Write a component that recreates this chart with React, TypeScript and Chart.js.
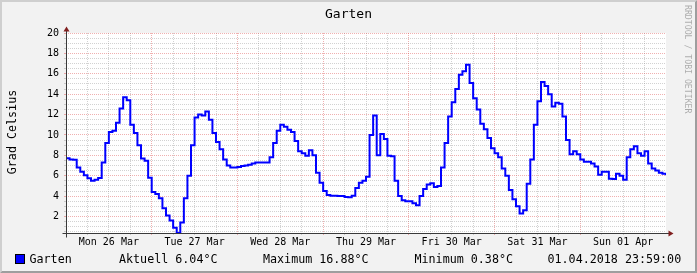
import React, { useEffect, useRef } from "react";
import { Chart, registerables } from "chart.js";

Chart.register(...registerables);

// ---------- text ----------
const CHART_TITLE = "Garten";
const Y_AXIS_TITLE = "Grad Celsius";
const WATERMARK = "RRDTOOL / TOBI OETIKER";
const SERIES_NAME = "Garten";
const LEGEND_TEXTS = ["Aktuell 6.04°C", "Maximum 16.88°C", "Minimum 0.38°C", "01.04.2018 23:59:00"];

// ---------- axes ----------
const DAY_LABELS = ["Mon 26 Mar", "Tue 27 Mar", "Wed 28 Mar", "Thu 29 Mar", "Fri 30 Mar", "Sat 31 Mar", "Sun 01 Apr"];
const Y_TICK_LABELS = [2, 4, 6, 8, 10, 12, 14, 16, 18, 20];
const X_MAX_HOURS = 168;
const X_GRID_STEP_HOURS = 6;
const Y_MIN = 0.38;
const Y_MAX = 20;
const Y_GRID_STEP = 0.5;

// ---------- hourly temperatures (°C) ----------
const MON_26 = [7.72, 7.6, 7.56, 6.8, 6.4, 6.05, 5.75, 5.5, 5.6, 5.77, 7.3, 9.2, 10.3, 10.4, 11.2, 12.6, 13.7, 13.4, 11.0, 10.2, 9.0, 7.7, 7.46, 5.8];
const TUE_27 = [4.4, 4.2, 3.8, 2.8, 2.1, 1.6, 0.9, 0.38, 1.4, 3.8, 6.0, 9.0, 11.7, 12.0, 11.9, 12.3, 11.5, 10.2, 9.3, 8.6, 7.6, 7.0, 6.8, 6.8];
const WED_28 = [6.85, 6.95, 7.0, 7.07, 7.2, 7.3, 7.3, 7.3, 7.3, 7.8, 9.2, 10.4, 11.0, 10.8, 10.5, 10.3, 9.4, 8.4, 8.2, 7.95, 8.5, 8.0, 6.3, 5.3];
const THU_29 = [4.5, 4.1, 4.04, 4.04, 4.0, 4.0, 3.9, 3.88, 4.04, 4.8, 5.3, 5.5, 5.9, 10.0, 11.9, 8.0, 10.1, 9.6, 7.95, 7.9, 5.5, 4.0, 3.6, 3.5];
const FRI_30 = [3.5, 3.3, 3.1, 4.0, 4.7, 5.15, 5.25, 4.9, 5.0, 6.8, 9.2, 11.8, 13.2, 14.5, 15.9, 16.25, 16.88, 15.1, 13.6, 12.5, 11.1, 10.55, 9.7, 8.7];
const SAT_31 = [8.2, 7.8, 6.7, 6.0, 4.6, 3.7, 3.0, 2.3, 2.6, 5.2, 7.6, 11.0, 13.3, 15.2, 14.8, 14.0, 12.8, 13.15, 13.05, 11.8, 9.5, 8.1, 8.4, 8.1];
const SUN_01 = [7.6, 7.36, 7.36, 7.2, 6.9, 6.1, 6.4, 6.4, 5.7, 5.67, 6.2, 6.0, 5.6, 7.8, 8.6, 8.9, 8.2, 7.95, 8.4, 7.2, 6.7, 6.5, 6.3, 6.2];
const LAST_VALUE = 6.04;

const DAYS = [MON_26, TUE_27, WED_28, THU_29, FRI_30, SAT_31, SUN_01];

// ---------- colours ----------
const BACK = "#f2f2f2";
const CANVAS_BG = "#ffffff";
const SHADE_A = "#cfcfcf";
const SHADE_B = "#9e9e9e";
const GRID_MINOR = "rgba(143,143,143,0.4)";
const GRID_MAJOR = "rgba(222,79,79,0.45)";
const AXIS_COLOR = "#3a3a3a";
const ARROW_COLOR = "#801f1f";
const LINE_COLOR = "#0000ff";
const FONT = '"DejaVu Sans Mono", monospace';

const W = 697;
const H = 273;

const rrdPlugin = {
  id: "rrdDecor",
  beforeDraw(chart: any) {
    const { ctx, chartArea } = chart;
    ctx.save();
    ctx.fillStyle = BACK;
    ctx.fillRect(0, 0, W, H);
    // bevel
    ctx.fillStyle = SHADE_A;
    ctx.beginPath();
    ctx.moveTo(0, H);
    ctx.lineTo(2, H - 2);
    ctx.lineTo(2, 2);
    ctx.lineTo(W - 2, 2);
    ctx.lineTo(W, 0);
    ctx.lineTo(0, 0);
    ctx.closePath();
    ctx.fill();
    ctx.fillStyle = SHADE_B;
    ctx.beginPath();
    ctx.moveTo(2, H - 2);
    ctx.lineTo(W - 2, H - 2);
    ctx.lineTo(W - 2, 2);
    ctx.lineTo(W, 0);
    ctx.lineTo(W, H);
    ctx.lineTo(0, H);
    ctx.closePath();
    ctx.fill();
    ctx.fillStyle = CANVAS_BG;
    ctx.fillRect(chartArea.left, chartArea.top, chartArea.right - chartArea.left, chartArea.bottom - chartArea.top);
    ctx.restore();
  },
  afterDraw(chart: any) {
    const { ctx, chartArea } = chart;
    const x0 = chartArea.left + 0.5;
    const y0 = chartArea.bottom + 0.5;
    const x1 = chartArea.right + 0.5;
    const yTop = chartArea.top + 0.5;
    ctx.save();
    // axes
    ctx.strokeStyle = AXIS_COLOR;
    ctx.lineWidth = 1;
    ctx.beginPath();
    ctx.moveTo(x0 - 4, y0);
    ctx.lineTo(x1 + 4, y0);
    ctx.moveTo(x0, y0 + 4);
    ctx.lineTo(x0, yTop - 4);
    ctx.stroke();
    // arrows
    ctx.fillStyle = ARROW_COLOR;
    ctx.beginPath();
    ctx.moveTo(x1 + 2, y0 - 3);
    ctx.lineTo(x1 + 2, y0 + 3);
    ctx.lineTo(x1 + 7, y0);
    ctx.closePath();
    ctx.fill();
    ctx.beginPath();
    ctx.moveTo(x0 - 3, yTop - 2);
    ctx.lineTo(x0 + 3, yTop - 2);
    ctx.lineTo(x0, yTop - 7);
    ctx.closePath();
    ctx.fill();

    // title
    ctx.fillStyle = "#000";
    ctx.font = `13px ${FONT}`;
    ctx.textAlign = "center";
    ctx.textBaseline = "alphabetic";
    ctx.fillText(CHART_TITLE, W / 2, 18);

    // y axis title
    ctx.save();
    ctx.font = `11.7px ${FONT}`;
    ctx.translate(15.5, 132);
    ctx.rotate(-Math.PI / 2);
    ctx.textAlign = "center";
    ctx.fillText(Y_AXIS_TITLE, 0, 0);
    ctx.restore();

    // watermark
    ctx.save();
    ctx.font = `8.2px ${FONT}`;
    ctx.fillStyle = "rgba(0,0,0,0.3)";
    ctx.translate(685, 5);
    ctx.rotate(Math.PI / 2);
    ctx.textAlign = "left";
    ctx.fillText(WATERMARK, 0, 0);
    ctx.restore();

    // legend
    ctx.fillStyle = "#000";
    ctx.fillRect(15, 254, 10, 10);
    ctx.fillStyle = LINE_COLOR;
    ctx.fillRect(16, 255, 8, 8);
    ctx.fillStyle = "#000";
    ctx.font = `11.7px ${FONT}`;
    ctx.textAlign = "left";
    ctx.fillText(SERIES_NAME, 29.5, 263);
    const legendX = [119, 263, 414.5, 547.5];
    LEGEND_TEXTS.forEach((t, i) => ctx.fillText(t, legendX[i], 263));
    ctx.restore();
  },
};

export default function App() {
  const canvasRef = useRef<HTMLCanvasElement | null>(null);

  useEffect(() => {
    document.body.style.margin = "0";
    const canvas = canvasRef.current;
    if (!canvas) return;

    const points: { x: number; y: number }[] = [];
    DAYS.forEach((vals, d) => vals.forEach((v, h) => points.push({ x: d * 24 + h, y: v })));
    points.push({ x: X_MAX_HOURS, y: LAST_VALUE });

    const xTicks: number[] = [];
    for (let v = 0; v <= X_MAX_HOURS; v += X_GRID_STEP_HOURS) xTicks.push(v);
    const yTicks: number[] = [];
    for (let v = Y_GRID_STEP; v <= Y_MAX + 1e-9; v += Y_GRID_STEP) yTicks.push(Math.round(v * 10) / 10);

    const chart = new Chart(canvas, {
      type: "line",
      data: {
        datasets: [
          {
            label: SERIES_NAME,
            data: points,
            borderColor: LINE_COLOR,
            backgroundColor: LINE_COLOR,
            borderWidth: 2,
            pointRadius: 0,
            stepped: "before",
            fill: false,
            tension: 0,
          },
        ],
      },
      options: {
        animation: false,
        responsive: false,
        devicePixelRatio: 1,
        events: [],
        layout: { padding: { left: 0, top: 33, right: 31, bottom: 0 } },
        plugins: {
          legend: { display: false },
          title: { display: false },
          tooltip: { enabled: false },
        },
        scales: {
          x: {
            type: "linear",
            min: 0,
            max: X_MAX_HOURS,
            afterBuildTicks: (s: any) => {
              s.ticks = xTicks.map((value) => ({ value }));
            },
            afterFit: (s: any) => {
              s.height = 40;
            },
            grid: {
              color: (c: any) => {
                const v = c.tick ? c.tick.value : 0;
                if (v === X_MAX_HOURS) return "rgba(0,0,0,0)";
                return v % 24 === 0 ? GRID_MAJOR : GRID_MINOR;
              },
              lineWidth: 1,
              drawTicks: true,
              tickLength: 2,
            },
            border: { display: false, dash: [1, 1] },
            ticks: {
              autoSkip: false,
              maxRotation: 0,
              minRotation: 0,
              padding: 1,
              color: "#000",
              font: { family: FONT, size: 10 },
              callback: (v: any) => {
                const n = Number(v);
                return n % 24 === 12 ? DAY_LABELS[(n - 12) / 24] : "";
              },
            },
          },
          y: {
            type: "linear",
            min: Y_MIN,
            max: Y_MAX,
            afterBuildTicks: (s: any) => {
              s.ticks = yTicks.map((value) => ({ value }));
            },
            afterFit: (s: any) => {
              s.width = 66;
            },
            grid: {
              color: (c: any) => {
                const v = c.tick ? c.tick.value : 0;
                return Math.abs(v % 2) < 1e-9 ? GRID_MAJOR : GRID_MINOR;
              },
              lineWidth: 1,
              drawTicks: true,
              tickLength: 2,
            },
            border: { display: false, dash: [1, 1] },
            ticks: {
              autoSkip: false,
              padding: 5,
              color: "#000",
              font: { family: FONT, size: 10 },
              callback: (v: any) => {
                const n = Number(v);
                return Y_TICK_LABELS.includes(n) ? String(n) : "";
              },
            },
          },
        },
      },
      plugins: [rrdPlugin],
    } as any);

    return () => chart.destroy();
  }, []);

  return (
    <div style={{ width: W, height: H }}>
      <canvas ref={canvasRef} width={W} height={H} style={{ display: "block", width: W, height: H }} />
    </div>
  );
}
